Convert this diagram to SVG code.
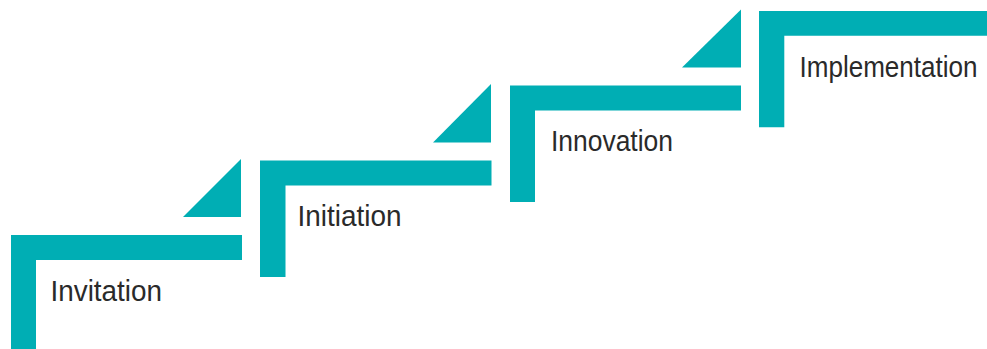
<svg xmlns="http://www.w3.org/2000/svg" width="987" height="349" viewBox="0 0 987 349">
<style>
.bar{fill:#00AEB4}
.lbl{font-family:"Liberation Sans",Arial,sans-serif;font-size:29.5px;fill:#2a2a2a}
</style>
<rect width="987" height="349" fill="#ffffff"/>
<g id="step-invitation">
<path class="bar" d="M11,235 H242 V260 H36 V349 H11 Z"/>
<polygon class="bar" points="183,217 241,159 241,217"/>
<text class="lbl" x="50.5" y="300.5" textLength="111.5" lengthAdjust="spacingAndGlyphs">Invitation</text>
</g>
<g id="step-initiation">
<path class="bar" d="M260,160.5 H491.5 V185.5 H285.5 V277 H260 Z"/>
<polygon class="bar" points="433,142.5 491,84 491,142.5"/>
<text class="lbl" x="297.5" y="225.5" textLength="104" lengthAdjust="spacingAndGlyphs">Initiation</text>
</g>
<g id="step-innovation">
<path class="bar" d="M510,85.5 H741 V110.5 H535 V202 H510 Z"/>
<polygon class="bar" points="682,67.5 741,9.5 741,67.5"/>
<text class="lbl" x="551" y="150.5" textLength="122" lengthAdjust="spacingAndGlyphs">Innovation</text>
</g>
<g id="step-implementation">
<path class="bar" d="M759,11 H987 V35.7 H784.3 V127.3 H759 Z"/>
<text class="lbl" x="799.5" y="76.5" textLength="178" lengthAdjust="spacingAndGlyphs">Implementation</text>
</g>
<g id="connectors"></g>
</svg>
